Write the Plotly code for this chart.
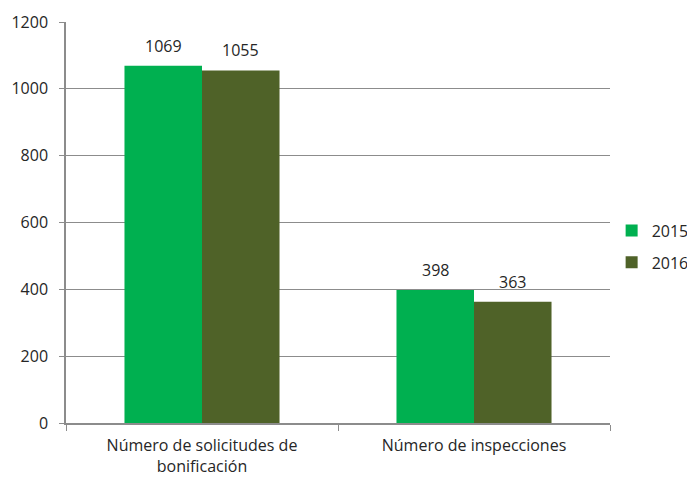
import plotly.graph_objects as go

categories = ["Número de solicitudes de<br>bonificación", "Número de inspecciones"]
series_names = ["2015", "2016"]
values_2015 = [1069, 398]
values_2016 = [1055, 363]
colors = ["#00B050", "#4F6228"]

BARGAP = 0.43
series = [values_2015, values_2016]
n = len(series)
bar_w = (1 - BARGAP) / n

fig = go.Figure()
for si, (name, vals, col) in enumerate(zip(series_names, series, colors)):
    fig.add_trace(go.Bar(
        x=categories, y=vals, name=name, legendgroup=name,
        marker=dict(color=col, line=dict(width=0)),
    ))
    off = (si - (n - 1) / 2) * bar_w
    for ci, v in enumerate(vals):
        fig.add_annotation(x=ci + off, y=v, xref="x", yref="y", text=str(v),
                           showarrow=False, yanchor="bottom", yshift=7,
                           font=dict(size=16, color="#262626"))

fig.update_layout(
    width=695, height=479,
    margin=dict(l=58, r=93, t=14, b=64, autoexpand=False),
    paper_bgcolor="white", plot_bgcolor="white",
    font=dict(family="Open Sans, sans-serif", size=16, color="#262626"),
    barmode="group", bargap=BARGAP, bargroupgap=0,
    showlegend=True,
    legend=dict(x=1.003, y=0.44, yanchor="middle", xanchor="left",
                font=dict(size=16), tracegroupgap=8, itemwidth=30),
    xaxis=dict(showline=True, linecolor="#8c8c8c", linewidth=1.5, automargin=False,
               tickson="boundaries", ticks="outside", ticklen=6, tickcolor="#8c8c8c",
               showgrid=False, ticklabelstandoff=7),
    yaxis=dict(range=[0, 1200], dtick=200, showline=True, linecolor="#8c8c8c", linewidth=1.5,
               automargin=False,
               ticks="outside", ticklen=5, tickcolor="#8c8c8c", ticklabelstandoff=8,
               gridcolor="#8c8c8c", gridwidth=1, zeroline=False),
)

fig.write_html("out.html")
